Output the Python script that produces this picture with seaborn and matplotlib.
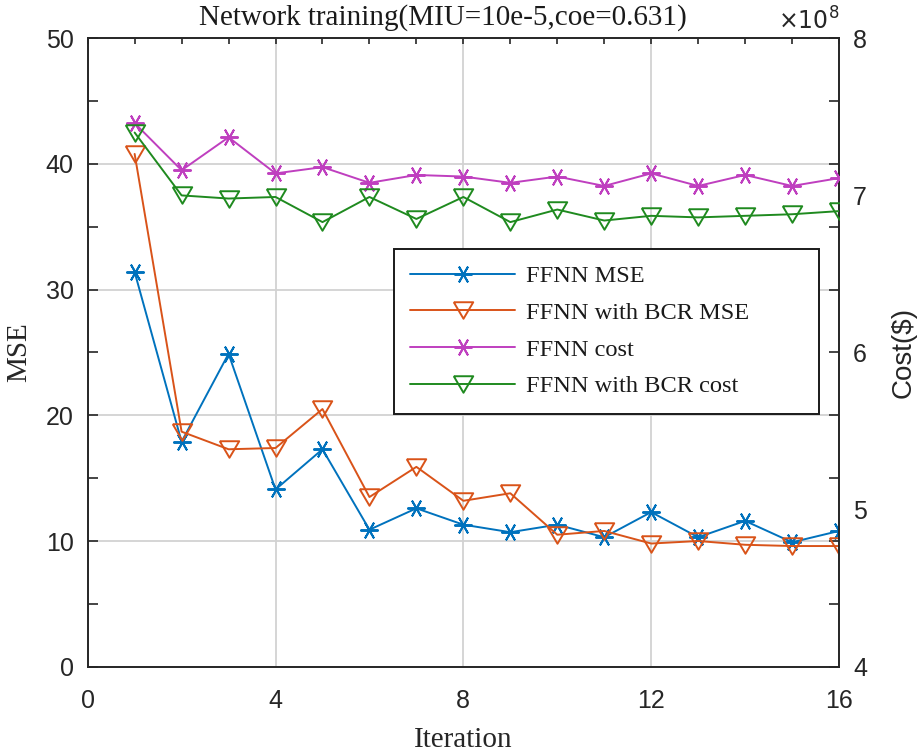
import numpy as np
import matplotlib
matplotlib.use("Agg")
import matplotlib.pyplot as plt
import seaborn as sns
from matplotlib.ticker import MultipleLocator, FixedLocator, FuncFormatter

# values
iteration = np.arange(1, 17)
ffnn_mse = [31.4, 17.9, 24.9, 14.1, 17.3, 10.9, 12.6, 11.3,
            10.7, 11.3, 10.3, 12.3, 10.3, 11.6, 9.9, 10.8]
bcr_mse = [40.8, 18.7, 17.3, 17.4, 20.5, 13.5, 15.9, 13.2,
           13.8, 10.5, 10.8, 9.8, 10.0, 9.7, 9.6, 9.6]
# costs in units of 1e8 $
ffnn_cost = [7.46, 7.16, 7.37, 7.14, 7.18, 7.08, 7.13, 7.12,
             7.08, 7.12, 7.06, 7.14, 7.06, 7.13, 7.06, 7.11]
bcr_cost = [7.40, 7.00, 6.98, 6.99, 6.83, 6.99, 6.85, 6.99,
            6.83, 6.91, 6.84, 6.87, 6.86, 6.87, 6.88, 6.90]
cost_scale = 1e8

labels = ["FFNN MSE", "FFNN with BCR MSE", "FFNN cost", "FFNN with BCR cost"]
colors = ["#0072BD", "#D95319", "#BF3FBF", "#1F8A1F"]
title = "Network training(MIU=10e-5,coe=0.631)"

sns.set_style("white")
serif = ["Liberation Serif", "DejaVu Serif"]
sans = ["Liberation Sans", "DejaVu Sans"]
plt.rcParams["font.family"] = sans

fig = plt.figure(figsize=(9.2, 7.54), dpi=100)
ax = fig.add_axes([0.0953, 0.1158, 0.8167, 0.8334])
ax2 = ax.twinx()

star = (6, 2, 90)                                   # matlab-like asterisk
tri = [(-1, 0.85), (1, 0.85), (0, -0.85), (-1, 0.85)]  # slightly flat down triangle
star_kw = dict(linewidth=1.4, markersize=13, markeredgewidth=1.4)
tri_kw = dict(linewidth=1.4, markersize=14, markeredgewidth=1.4, markerfacecolor="none")

sns.lineplot(x=iteration, y=ffnn_mse, ax=ax, color=colors[0], marker=star,
             markeredgecolor=colors[0], label=labels[0], legend=False, **star_kw)
sns.lineplot(x=iteration, y=bcr_mse, ax=ax, color=colors[1], marker=tri,
             markeredgecolor=colors[1], label=labels[1], legend=False, **tri_kw)
sns.lineplot(x=iteration, y=np.array(ffnn_cost) * cost_scale, ax=ax2, color=colors[2],
             marker=star, markeredgecolor=colors[2], label=labels[2], legend=False, **star_kw)
sns.lineplot(x=iteration, y=np.array(bcr_cost) * cost_scale, ax=ax2, color=colors[3],
             marker=tri, markeredgecolor=colors[3], label=labels[3], legend=False, **tri_kw)

# left axis
ax.set_xlim(0, 16)
ax.set_ylim(0, 50)
ax.xaxis.set_major_locator(MultipleLocator(4))
ax.xaxis.set_minor_locator(MultipleLocator(1))
ax.yaxis.set_major_locator(MultipleLocator(10))
ax.yaxis.set_minor_locator(MultipleLocator(5))
ax.grid(True, which="major", color="#d2d2d2", linewidth=1.3)
ax.set_axisbelow(True)
ax.tick_params(axis="both", which="both", direction="in", top=True, right=True,
               color="#262626", width=1.2, labelsize=18, labelcolor="#262626")
ax.tick_params(axis="y", which="both", length=7, pad=10)
ax.tick_params(axis="x", which="both", length=4, pad=16)
for s in ax.spines.values():
    s.set_color("#262626")
    s.set_linewidth(1.4)
ax.set_xlabel("Iteration", family=serif, fontsize=21, color="#262626", labelpad=10)
ax.set_ylabel("MSE", family=serif, fontsize=21, color="#262626", labelpad=10)
ax.set_title(title, family=serif, fontsize=21, color="#1a1a1a", pad=10, x=0.473)

# right axis
ax2.set_ylim(4 * cost_scale, 8 * cost_scale)
ax2.yaxis.set_major_locator(FixedLocator(np.arange(4, 9) * cost_scale))
ax2.yaxis.set_major_formatter(FuncFormatter(lambda v, p: f"{v / cost_scale:.0f}"))
ax2.tick_params(axis="y", length=0, labelsize=18, labelcolor="#262626", pad=10)
for s in ax2.spines.values():
    s.set_visible(False)
ax2.set_ylabel("Cost($)", fontsize=20, color="#262626", labelpad=17)
ax2.text(1.0, 1.006, r"$\times10^{8}$", transform=ax2.transAxes, ha="right",
         va="bottom", fontsize=17, color="#262626")

handles = ax.get_lines()[:2] + ax2.get_lines()[:2]
leg = ax2.legend(handles, labels, loc="upper left",
                 bbox_to_anchor=(0.408, 0.407, 0.565, 0.258), mode="expand",
                 prop={"family": serif, "size": 17.6}, frameon=True, fancybox=False,
                 edgecolor="#1a1a1a", framealpha=1, handlelength=4.3,
                 handletextpad=0.45, labelspacing=0.6, borderpad=0.66,
                 borderaxespad=0)
leg.get_frame().set_linewidth(1.4)
for t in leg.get_texts():
    t.set_color("#1a1a1a")

fig.savefig("out.png", dpi=100)
